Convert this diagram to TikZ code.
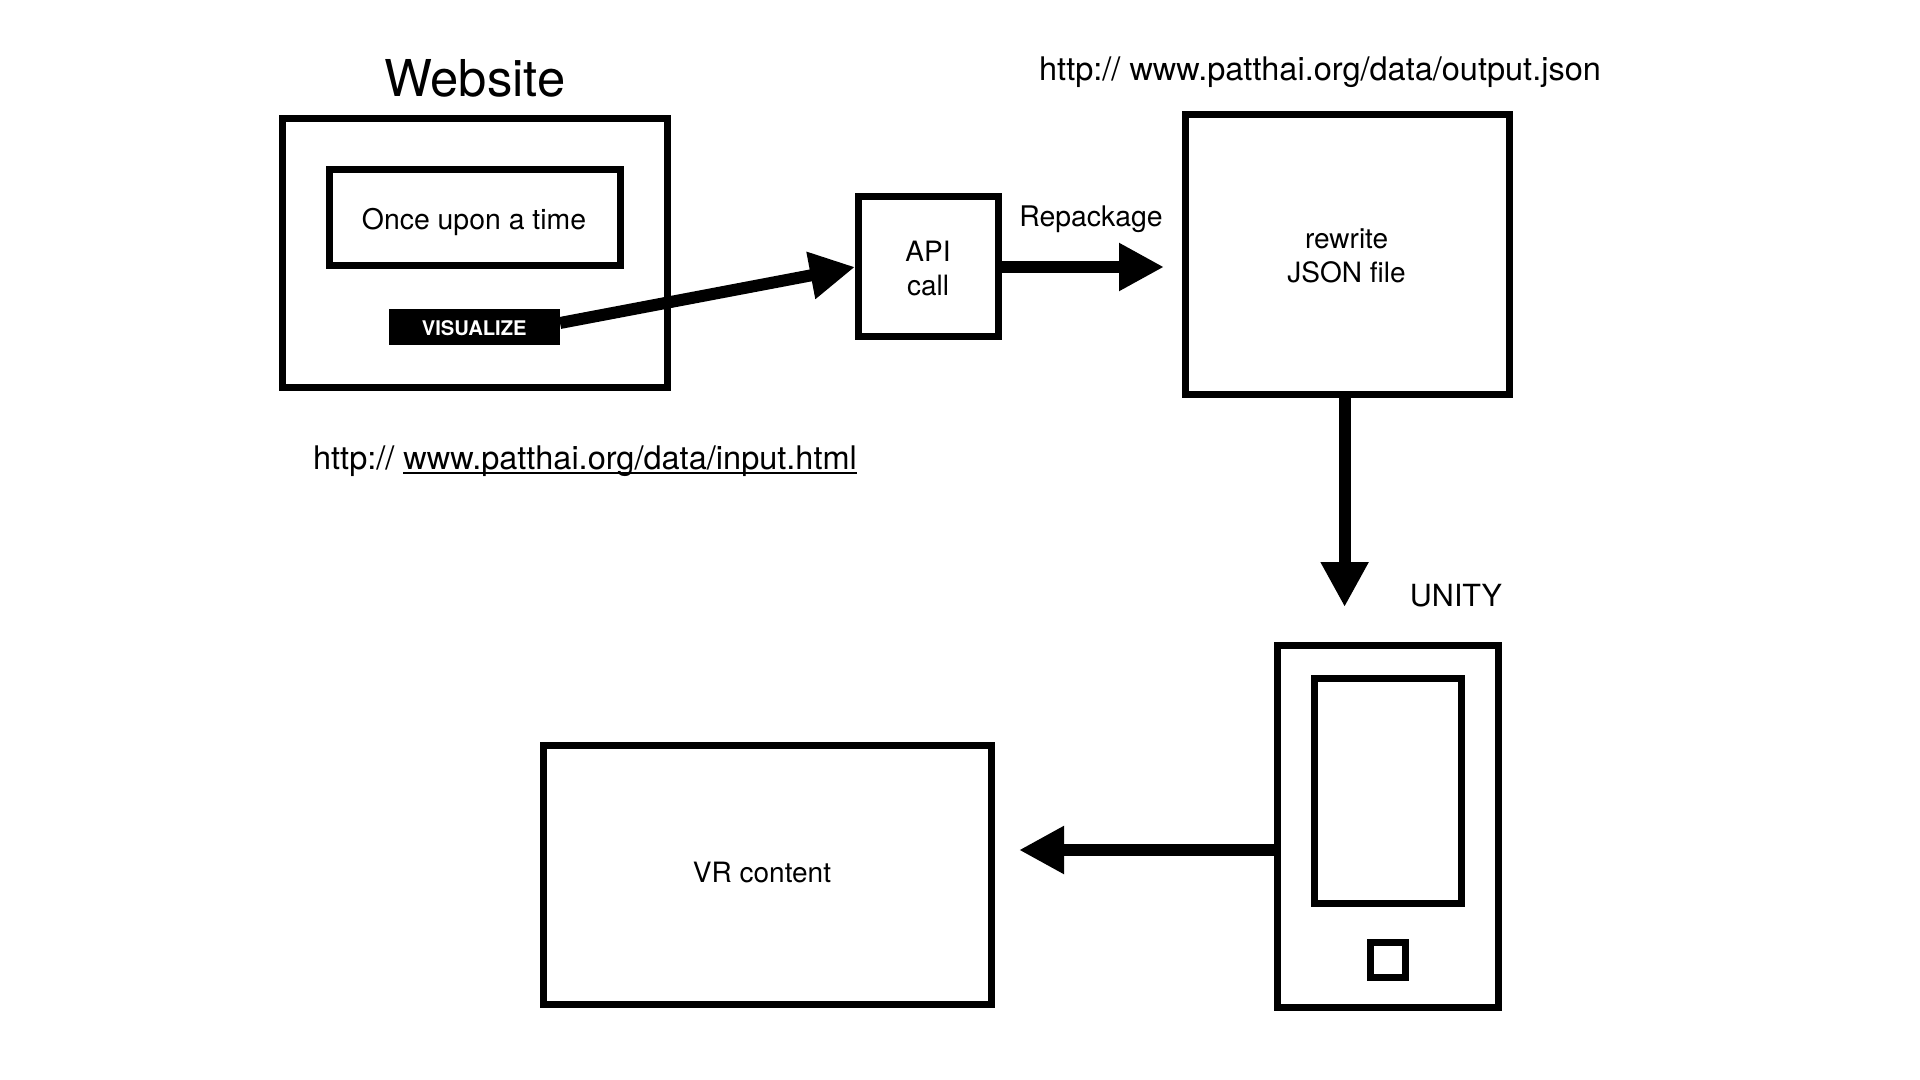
\documentclass[tikz,border=0pt]{standalone}
\usepackage{fontspec}
\setmainfont{TeX Gyre Heros}
\usetikzlibrary{arrows.meta}
\newcommand{\fs}[2]{\fontsize{#1pt}{#2pt}\selectfont}
\newcommand{\ulin}[1]{\setbox0=\hbox{#1}\rlap{\rule[-2.4pt]{\wd0}{0.8pt}}\box0}
\tikzset{
  box/.style={draw=black,line width=3.5pt,inner sep=0pt,outer sep=0pt,fill=none},
  lbl/.style={anchor=base,inner sep=0pt,outer sep=0pt,text=black,align=center},
  bigarrow/.style={draw=black,line width=6pt,-{Triangle[length=22.5pt,width=22.5pt]}},
}
\begin{document}
\begin{tikzpicture}[x=0.5pt,y=-0.5pt]
\useasboundingbox[fill=white] (0,0) rectangle (1920,1080);
% boxes
\node[box,minimum width=192.5pt,minimum height=134.5pt] (web) at (474.5,253.25) {};
\node[box,minimum width=145.5pt,minimum height=48pt] (once) at (474.5,218) {};
\node[fill=black,inner sep=0pt,outer sep=0pt,minimum width=85.7pt,minimum height=18pt] (vis) at (474.3,327) {};
\node[box,minimum width=70pt,minimum height=70pt] (api) at (928,267) {};
\node[box,minimum width=162pt,minimum height=140pt] (json) at (1347,254.75) {};
\node[box,minimum width=224pt,minimum height=129.5pt] (vr) at (767,874.5) {};
\node[box,minimum width=110.5pt,minimum height=181pt] (phone) at (1387.5,826) {};
\node[box,minimum width=73.5pt,minimum height=112.5pt] (screen) at (1387.5,790.5) {};
\node[box,minimum width=17.5pt,minimum height=17.5pt] (btn) at (1388,960) {};
% free arrow ends
\coordinate (repTip) at (1164,267);
\coordinate (dnTip) at (1344.6,607);
\coordinate (lfTip) at (1019,850);
% connectors
\draw[bigarrow] ([yshift=2pt]vis.east) -- ([xshift=-1.5pt]api.west);
\draw[bigarrow] (api.east) -- (repTip);
\draw[bigarrow] (json.south -| dnTip) -- (dnTip);
\draw[bigarrow] (phone.west |- lfTip) -- (lfTip);
% labels
\node[lbl,font=\fs{25.4}{30}] (tWeb) at (474.75,96.5) {Website};
\node[lbl,font=\fs{14.2}{17}] (tOnce) at (474,230) {Once upon a time};
\node[lbl,font=\fs{10.1}{12}\bfseries,text=white] (tVis) at (474.25,335.5) {VISUALIZE};
\node[lbl,font=\fs{16.25}{20}] (tIn) at (585,469) {http:// \ulin{www.patthai.org/data/input.html}};
\node[lbl,font=\fs{16.25}{20}] (tOut) at (1320,81) {http:// www.patthai.org/data/output.json};
\node[lbl,font=\fs{14.2}{17}] (tRep) at (1091,226.5) {Repackage};
\node[lbl,font=\fs{14}{17}] (tApi) at (928,262) {API};
\node[lbl,font=\fs{14}{17}] (tCall) at (928,296) {call};
\node[lbl,font=\fs{14}{17}] (tRew) at (1346.6,248.6) {rewrite};
\node[lbl,font=\fs{14}{17}] (tJson) at (1346.6,283) {JSON file};
\node[lbl,font=\fs{15.25}{19}] (tUni) at (1456,606.5) {UNITY};
\node[lbl,font=\fs{14}{17}] (tVr) at (762,882) {VR content};
\end{tikzpicture}
\end{document}
